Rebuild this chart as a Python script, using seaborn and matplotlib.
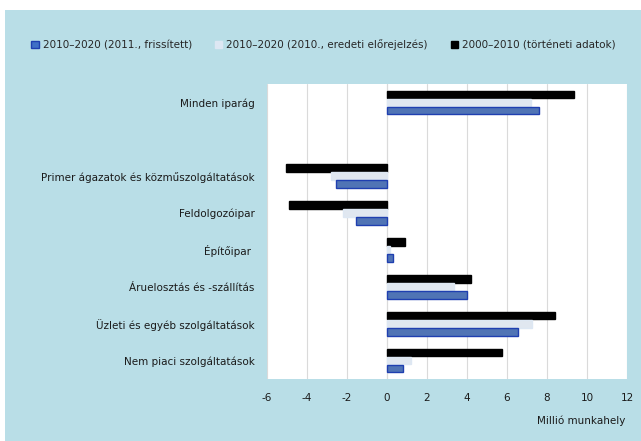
import matplotlib
matplotlib.use("Agg")
import matplotlib.pyplot as plt
import seaborn as sns
import pandas as pd
import numpy as np
from matplotlib.patches import Rectangle, Patch

categories = ["Minden iparág", " ", "Primer ágazatok és közműszolgáltatások",
              "Feldolgozóipar", "Építőipar ", "Áruelosztás és -szállítás",
              "Üzleti és egyéb szolgáltatások", "Nem piaci szolgáltatások"]
series = ["2010–2020 (2011., frissített)", "2010–2020 (2010., eredeti előrejelzés)",
          "2000–2010 (történeti adatok)"]
upd_2011 = [7.6, np.nan, -2.55, -1.55, 0.3, 4.0, 6.55, 0.8]
orig_2010 = [7.2, np.nan, -2.8, -2.2, 0.15, 3.35, 7.25, 1.2]
hist_2000 = [9.35, np.nan, -5.05, -4.9, 0.9, 4.2, 8.4, 5.75]
xticks = [-6, -4, -2, 0, 2, 4, 6, 8, 10, 12]

rows = []
for s, vals in zip(series, [upd_2011, orig_2010, hist_2000]):
    for c, v in zip(categories, vals):
        rows.append({"cat": c, "series": s, "val": v})
df = pd.DataFrame(rows)

sns.set_style("white")
plt.rcParams["font.family"] = ["DejaVu Sans"]

colors = {series[0]: "#3f6fc6", series[1]: "#dde7f3", series[2]: "#000000"}
edges = {series[0]: "#1f3fb0", series[1]: "#dde7f3", series[2]: "#000000"}

fig = plt.figure(figsize=(6.41, 4.41), dpi=100)
fig.patch.set_facecolor("white")
bg = Rectangle((5 / 641, 0), 1, (441 - 10) / 441, transform=fig.transFigure,
               facecolor="#b9dee7", edgecolor="none", zorder=-10)
fig.patches.append(bg)

ax = fig.add_axes([267 / 641, 1 - 379 / 441, 360 / 641, 295 / 441])
ax.set_facecolor("white")

hue_order = [series[2], series[1], series[0]]
sns.barplot(data=df, y="cat", x="val", hue="series", order=categories,
            hue_order=hue_order, palette=colors, orient="h", width=0.66,
            gap=0.06, ax=ax, legend=False, errorbar=None)

for cont, s in zip(ax.containers, hue_order):
    for b in cont:
        b.set_edgecolor(edges[s])
        b.set_linewidth(1.0)

ax.set_xlim(-6, 12)
ax.set_xticks(xticks)
ax.set_xticklabels([str(t) for t in xticks], fontsize=7.5, color="#1a1a1a")
ax.tick_params(axis="x", length=0, pad=10)
ax.tick_params(axis="y", length=0, pad=9, labelsize=7.5, labelcolor="#1a1a1a")
ax.set_ylabel("")
ax.set_xlabel("")
ax.grid(axis="x", color="#dadada", linewidth=0.8)
ax.set_axisbelow(True)
for sp in ax.spines.values():
    sp.set_visible(False)
ax.axvline(0, color="#cccccc", linewidth=0.8, zorder=0.5)

fig.text(625 / 641, 1 - 421 / 441, "Millió munkahely", ha="right", va="center",
         fontsize=7.5, color="#1a1a1a")

handles = [Patch(facecolor=colors[s], edgecolor=edges[s], label=s) for s in series]
fig.legend(handles=handles, loc="center", bbox_to_anchor=(0.505, 1 - 45 / 441),
           ncol=3, frameon=False, fontsize=7.5, handlelength=0.7, handleheight=0.7,
           handletextpad=0.4, columnspacing=2.2)

fig.savefig("out.png", dpi=100)
